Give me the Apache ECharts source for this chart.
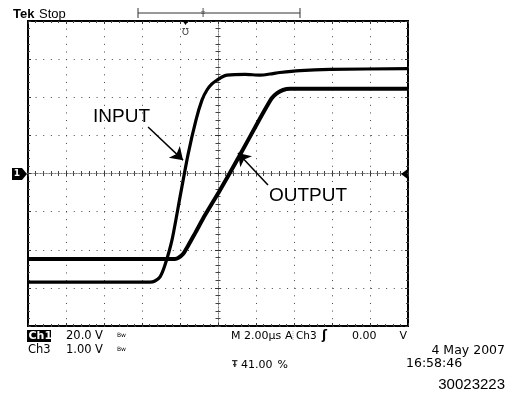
<!DOCTYPE html>
<html><head><meta charset="utf-8">
<script src="https://cdn.jsdelivr.net/npm/echarts@6/dist/echarts.min.js"></script>
<style>html,body{margin:0;padding:0;background:#fff}#c{width:507px;height:399px}</style>
</head><body><div id="c"></div>
<script>
// Time in µs relative to screen centre (M 2.00 µs/div), level in screen divisions
const inputTime  = [-10, -3.58, -3.32, -3.05, -2.79, -2.42, -2.0, -1.58, -1.16, -0.84, -0.58, -0.32, -0.05, 0.21, 0.47, 1.42, 2.21, 2.74, 3.26, 4.32, 5.89, 10];
const inputLevel = [-2.85, -2.85, -2.82, -2.71, -2.40, -1.74, -0.62, 0.49, 1.40, 1.93, 2.19, 2.35, 2.45, 2.53, 2.58, 2.60, 2.58, 2.61, 2.65, 2.70, 2.73, 2.75];
const outputTime  = [-10, -2.26, -2.11, -1.84, -1.58, -1.21, -0.68, 0.11, 1.16, 2.05, 2.58, 2.84, 3.11, 3.42, 3.79, 10];
const outputLevel = [-2.24, -2.24, -2.22, -2.11, -1.90, -1.57, -1.09, -0.43, 0.49, 1.30, 1.77, 1.98, 2.11, 2.19, 2.22, 2.22];
const seriesNames = ['INPUT', 'OUTPUT'];
const timeRange = [-10, 10];   // 10 divisions x 2 µs
const levelRange = [-4, 4];    // 8 divisions
const statusTexts = {
  tek: 'Tek', stop: 'Stop',
  ch1: 'Ch1', ch1Scale: '20.0', ch3: 'Ch3', ch3Scale: '1.00', unit: 'V', bw: 'Bw',
  horiz: 'M 2.00µs', trigSrcA: 'A', trigSrc: 'Ch3', trigSlope: 'ʃ', trigLevel: '0.00',
  trigPos: '41.00', pct: '%', date: '4 May 2007', time: '16:58:46', code: '30023223'
};

const FONT = '"DejaVu Sans", sans-serif';
function xAx(pos, onZero, inside, extra) {
  return Object.assign({
    type: 'value', min: timeRange[0], max: timeRange[1], interval: 2, position: pos,
    axisLabel: { show: false },
    axisLine: onZero ? { show: true, onZero: true, onZeroAxisIndex: 0, lineStyle: { color: '#777', width: 1, type: [1, 2] } } : { show: false, onZero: false },
    axisTick: { show: true, inside: inside, length: 3, lineStyle: { color: '#333' } },
    minorTick: { show: true, splitNumber: 5, length: onZero ? 2.5 : 2, lineStyle: { color: '#444' } },
    splitLine: { show: false }
  }, extra || {});
}
function yAx(pos, onZero, inside, extra) {
  return Object.assign({
    type: 'value', min: levelRange[0], max: levelRange[1], interval: 1, position: pos,
    axisLabel: { show: false },
    axisLine: onZero ? { show: true, onZero: true, onZeroAxisIndex: 0, lineStyle: { color: '#777', width: 1, type: [1, 2] } } : { show: false, onZero: false },
    axisTick: { show: true, inside: inside, length: 3, lineStyle: { color: '#333' } },
    minorTick: { show: true, splitNumber: 5, length: onZero ? 2.5 : 2, lineStyle: { color: '#444' } },
    splitLine: { show: false }
  }, extra || {});
}
const gridSplit = { show: true, lineStyle: { color: '#444', width: 1, type: [1, 6.62] } };

const chart = echarts.init(document.getElementById('c'), null, { renderer: 'canvas' });
const txt = (x, y, text, opt) => ({
  type: 'text', x: x, y: y, silent: true, z: 10,
  style: Object.assign({ text: text, fill: '#000', font: '11px ' + FONT, textVerticalAlign: 'middle', textAlign: 'left' }, opt || {})
});
const arrowLine = (from, to) => ({
  silent: true, symbol: ['none', 'arrow'], symbolSize: 12,
  label: { show: false }, emphasis: { disabled: true },
  lineStyle: { color: '#000', width: 1.5, type: 'solid', opacity: 1 },
  data: [[{ coord: from, symbol: 'none' }, { coord: to, symbol: 'arrow', symbolSize: 12 }]]
});

chart.setOption({
  animation: false,
  backgroundColor: '#fff',
  grid: { left: 28, top: 21, width: 380, height: 305, show: true, borderColor: '#000', borderWidth: 2, backgroundColor: 'transparent' },
  xAxis: [
    xAx('bottom', false, true, { splitLine: gridSplit }),
    xAx('top', false, true),
    xAx('bottom', true, false),
    xAx('top', true, false)
  ],
  yAxis: [
    yAx('left', false, true, { splitLine: gridSplit }),
    yAx('right', false, true),
    yAx('left', true, false),
    yAx('right', true, false)
  ],
  series: [
    {
      name: seriesNames[0], type: 'line', xAxisIndex: 0, yAxisIndex: 0,
      data: inputTime.map((t, i) => [t, inputLevel[i]]),
      symbol: 'none', smooth: 0.25,
      lineStyle: { color: '#000', width: 3.2 }, z: 5,
      markLine: arrowLine([-3.68, 1.22], [-1.84, 0.35])
    },
    {
      name: seriesNames[1], type: 'line', xAxisIndex: 0, yAxisIndex: 0,
      data: outputTime.map((t, i) => [t, outputLevel[i]]),
      symbol: 'none', smooth: 0.25,
      lineStyle: { color: '#000', width: 4 }, z: 5,
      markLine: arrowLine([2.63, -0.30], [1.05, 0.54])
    }
  ],
  graphic: [
    // header
    txt(13, 14, statusTexts.tek, { font: 'bold 13px "Liberation Sans", sans-serif' }),
    txt(39, 14, statusTexts.stop, { font: '13px "Liberation Sans", sans-serif' }),
    { type: 'line', silent: true, shape: { x1: 138, y1: 13, x2: 300, y2: 13 }, style: { stroke: '#333', lineWidth: 1 } },
    { type: 'line', silent: true, shape: { x1: 138, y1: 8, x2: 138, y2: 18 }, style: { stroke: '#333', lineWidth: 1 } },
    { type: 'line', silent: true, shape: { x1: 300, y1: 8, x2: 300, y2: 18 }, style: { stroke: '#333', lineWidth: 1 } },
    txt(203, 13, 'ǂ', { font: '9px ' + FONT, textAlign: 'center', fill: '#444' }),
    // trigger position marker
    { type: 'polygon', silent: true, z: 10, shape: { points: [[182, 20], [189, 20], [185.5, 25]] }, style: { fill: '#000' } },
    txt(185.5, 33, 'Ʊ', { font: '9px ' + FONT, textAlign: 'center', fill: '#333' }),
    // channel 1 ground marker
    { type: 'polygon', silent: true, z: 10, shape: { points: [[12, 168], [22, 168], [27, 174], [22, 180], [12, 180]] }, style: { fill: '#000' } },
    txt(17, 174, '1', { font: 'bold 9px ' + FONT, textAlign: 'center', fill: '#fff' }),
    // trigger level marker
    { type: 'polygon', silent: true, z: 10, shape: { points: [[401, 174], [407, 169.5], [407, 178.5]] }, style: { fill: '#000' } },
    // trace labels
    txt(93, 117, seriesNames[0], { font: '19px "Liberation Sans", Arial, sans-serif' }),
    txt(269, 196, seriesNames[1], { font: '19px "Liberation Sans", Arial, sans-serif' }),
    // status lines
    { type: 'rect', silent: true, z: 9, shape: { x: 27, y: 330, width: 24, height: 12 }, style: { fill: '#000' } },
    txt(28.5, 336, statusTexts.ch1, { font: 'bold 11px ' + FONT, fill: '#fff' }),
    txt(66, 336, statusTexts.ch1Scale, { font: '11.5px ' + FONT }),
    txt(95, 336, statusTexts.unit, { font: '11.5px ' + FONT }),
    txt(117, 335, statusTexts.bw, { font: '6px ' + FONT }),
    txt(28, 350, statusTexts.ch3, { font: '11.5px ' + FONT }),
    txt(66, 350, statusTexts.ch3Scale, { font: '11.5px ' + FONT }),
    txt(95, 350, statusTexts.unit, { font: '11.5px ' + FONT }),
    txt(117, 349, statusTexts.bw, { font: '6px ' + FONT }),
    txt(231, 336, statusTexts.horiz, { font: '11px ' + FONT }),
    txt(285, 336, statusTexts.trigSrcA, { font: '11px ' + FONT }),
    { type: 'line', silent: true, shape: { x1: 293, y1: 331, x2: 293, y2: 341 }, style: { stroke: '#aaa', lineWidth: 1, lineDash: [1, 1] } },
    txt(296, 336, statusTexts.trigSrc, { font: '10.5px ' + FONT }),
    txt(322, 336, statusTexts.trigSlope, { font: 'bold 12px ' + FONT }),
    txt(352, 336, statusTexts.trigLevel, { font: '11px ' + FONT }),
    txt(407, 336, statusTexts.unit, { font: '11px ' + FONT, textAlign: 'right' }),
    txt(232, 365, 'Ŧ', { font: 'bold 8px ' + FONT, fill: '#333' }),
    txt(241, 365, statusTexts.trigPos, { font: '11px ' + FONT }),
    txt(288, 365, statusTexts.pct, { font: '11px ' + FONT, textAlign: 'right' }),
    txt(505, 351, statusTexts.date, { font: '12.5px ' + FONT, textAlign: 'right' }),
    txt(406, 364, statusTexts.time, { font: '12.5px ' + FONT }),
    txt(505, 385, statusTexts.code, { font: '15px "Liberation Sans", Arial, sans-serif', textAlign: 'right' })
  ]
});
</script>
</body></html>
